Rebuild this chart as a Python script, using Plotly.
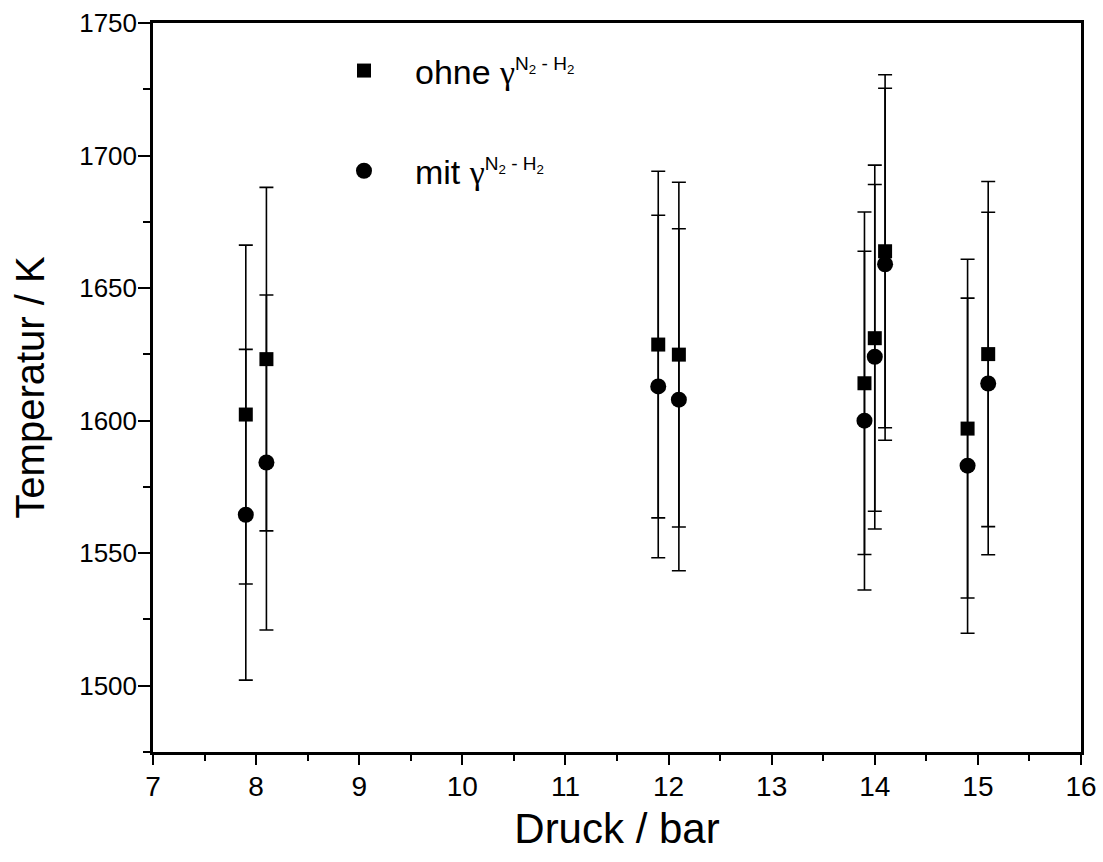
import plotly.graph_objects as go

# Data
pressure = [7.9, 8.1, 11.9, 12.1, 13.9, 14.0, 14.1, 14.9, 15.1]
temp_ohne = [1602.3, 1623.2, 1628.7, 1624.9, 1614.1, 1631.1, 1663.9, 1597.0, 1625.1]
err_ohne = [63.9, 64.8, 65.4, 65.0, 64.6, 65.3, 66.6, 63.9, 65.1]
temp_mit = [1564.5, 1584.2, 1612.9, 1607.9, 1600.0, 1624.1, 1659.0, 1583.0, 1614.0]
err_mit = [62.4, 63.2, 64.6, 64.5, 63.9, 65.0, 66.4, 63.2, 64.6]

gamma = "<span style='font-family:Liberation Serif, DejaVu Serif, serif'>\u03b3</span>"
sup = "<sup><span style='font-size:80%'>N<sub>2</sub> - H<sub>2</sub></span></sup>"
name_ohne = "ohne " + gamma + sup
name_mit = "mit " + gamma + sup

fig = go.Figure()
fig.add_trace(go.Scatter(
    x=pressure, y=temp_ohne, mode="markers", name=name_ohne,
    legendgroup="a",
    marker=dict(symbol="square", size=14, color="black"),
    error_y=dict(type="data", array=err_ohne, visible=True,
                 color="black", thickness=1.6, width=7),
))
fig.add_trace(go.Scatter(
    x=pressure, y=temp_mit, mode="markers", name=name_mit,
    legendgroup="b",
    marker=dict(symbol="circle", size=16, color="black"),
    error_y=dict(type="data", array=err_mit, visible=True,
                 color="black", thickness=1.6, width=7),
))

axis_font = "Liberation Sans, Arial, sans-serif"

fig.update_layout(
    width=1103, height=862,
    margin=dict(l=153, r=22, t=23, b=110),
    paper_bgcolor="white", plot_bgcolor="white",
    showlegend=True,
    legend=dict(
        x=0.1724, y=0.974, xanchor="left", yanchor="top",
        font=dict(family=axis_font, size=34, color="black"),
        bgcolor="rgba(0,0,0,0)", borderwidth=0,
        traceorder="grouped", tracegroupgap=53, itemwidth=92,
    ),
)

fig.update_xaxes(
    range=[7, 16], tick0=7, dtick=1, automargin=False,
    showline=True, linecolor="black", linewidth=2.5, mirror=True,
    ticks="outside", ticklen=10, tickwidth=2, tickcolor="black",
    minor=dict(dtick=0.5, ticks="outside", ticklen=6, tickwidth=2, tickcolor="black"),
    showgrid=False, zeroline=False,
    ticklabelstandoff=-2,
    tickfont=dict(family=axis_font, size=28, color="black"),
    title=dict(text="Druck / bar", font=dict(family=axis_font, size=42, color="black"), standoff=13),
)
fig.update_yaxes(
    range=[1475, 1750], tick0=1500, dtick=50, automargin=False,
    showline=True, linecolor="black", linewidth=2.5, mirror=True,
    ticks="outside", ticklen=12, tickwidth=2, tickcolor="black",
    minor=dict(dtick=25, ticks="outside", ticklen=7, tickwidth=2, tickcolor="black"),
    showgrid=False, zeroline=False,
    ticklabelstandoff=-4,
    tickfont=dict(family=axis_font, size=26, color="black"),
    title=dict(text="Temperatur / K", font=dict(family=axis_font, size=40, color="black"), standoff=23),
)

fig.write_html(
    "out.html",
    config={"displayModeBar": False},
    post_script="document.body.style.margin='0';document.body.style.padding='0';",
)
